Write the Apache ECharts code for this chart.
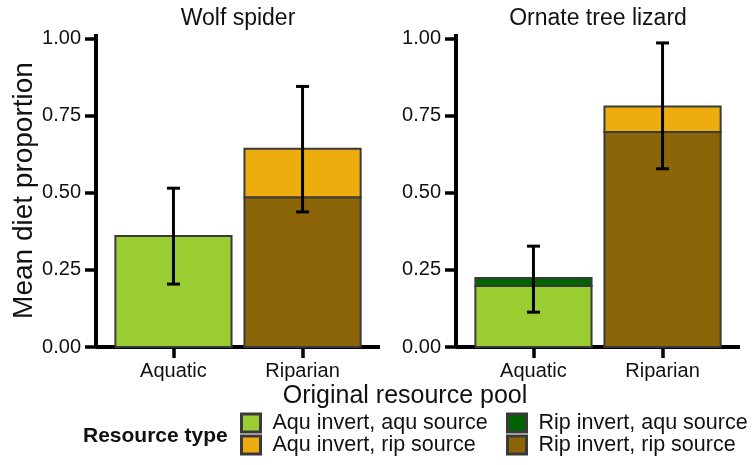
<!DOCTYPE html>
<html>
<head>
<meta charset="utf-8">
<script src="https://cdn.jsdelivr.net/npm/echarts@6/dist/echarts.min.js"></script>
<style>
  html, body { margin: 0; padding: 0; background: #fff; }
  #chart { width: 756px; height: 465px; }
</style>
</head>
<body>
<div id="chart"></div>
<script>
// Original resource pool categories and panel (consumer) names
const poolCategories = ['Aquatic', 'Riparian'];
const panelTitles = ['Wolf spider', 'Ornate tree lizard'];
const resourceTypes = [
  'Aqu invert, aqu source',
  'Aqu invert, rip source',
  'Rip invert, aqu source',
  'Rip invert, rip source'
];

// Mean diet proportion by pool (Aquatic, Riparian); null = no segment
const spiderAquAqu = [0.36, null];
const spiderAquRip = [null, 0.157];
const spiderRipAqu = [null, null];
const spiderRipRip = [null, 0.486];

const lizardAquAqu = [0.198, null];
const lizardAquRip = [null, 0.083];
const lizardRipAqu = [0.026, null];
const lizardRipRip = [null, 0.697];

// Error bar limits by pool
const spiderErrLow = [0.204, 0.438];
const spiderErrHigh = [0.515, 0.845];
const lizardErrLow = [0.113, 0.578];
const lizardErrHigh = [0.327, 0.986];

// Y axis tick values
const yTicks = [0, 0.25, 0.5, 0.75, 1];

const FONT = 'Liberation Sans, Arial, Helvetica, sans-serif';
const colors = {
  'Aqu invert, aqu source': '#9ACD32',
  'Aqu invert, rip source': '#EEAD0E',
  'Rip invert, aqu source': '#006400',
  'Rip invert, rip source': '#8B6508'
};
const BAR_BORDER = '#3a3a3a';
const BAR_WIDTH = 0.9; // in category units

const panels = [
  { aquAqu: spiderAquAqu, aquRip: spiderAquRip, ripAqu: spiderRipAqu, ripRip: spiderRipRip,
    low: spiderErrLow, high: spiderErrHigh },
  { aquAqu: lizardAquAqu, aquRip: lizardAquRip, ripAqu: lizardRipAqu, ripRip: lizardRipRip,
    low: lizardErrLow, high: lizardErrHigh }
];

const gridLefts = [96, 456];
const GRID_W = 284;

// Stacked rectangle: value(0) = category position, value(1) = base, value(2) = top
function renderSegment(params, api) {
  const x = api.value(0);
  const w = api.size([BAR_WIDTH, 0])[0];
  const pBase = api.coord([x, api.value(1)]);
  const pTop = api.coord([x, api.value(2)]);
  return {
    type: 'rect',
    shape: { x: pBase[0] - w / 2, y: pTop[1], width: w, height: pBase[1] - pTop[1] },
    style: { fill: api.visual('color'), stroke: BAR_BORDER, lineWidth: 2 }
  };
}

function renderErrorBar(params, api) {
  const x = api.value(0);
  const pLo = api.coord([x, api.value(1)]);
  const pHi = api.coord([x, api.value(2)]);
  const cap = 6.5;
  const style = { stroke: '#000', lineWidth: 3, lineCap: 'butt' };
  return {
    type: 'group',
    children: [
      { type: 'line', shape: { x1: pLo[0], y1: pLo[1], x2: pHi[0], y2: pHi[1] }, style },
      { type: 'line', shape: { x1: pLo[0] - cap, y1: pLo[1], x2: pLo[0] + cap, y2: pLo[1] }, style },
      { type: 'line', shape: { x1: pHi[0] - cap, y1: pHi[1], x2: pHi[0] + cap, y2: pHi[1] }, style }
    ]
  };
}

const grid = [], xAxis = [], yAxis = [], series = [];

panels.forEach((p, k) => {
  grid.push({ left: gridLefts[k], top: 34, width: GRID_W, height: 313 });
  xAxis.push({
    type: 'value', gridIndex: k, min: 0.4, max: 2.6,
    axisLine: { show: true, onZero: false, lineStyle: { color: '#000', width: 4, cap: 'butt' } },
    axisTick: { show: true, customValues: [1, 2], length: 11, lineStyle: { color: '#000', width: 3.5 } },
    axisLabel: {
      customValues: [1, 2], margin: 14, fontSize: 20, color: '#111', fontFamily: FONT,
      formatter: v => poolCategories[Math.round(v) - 1]
    },
    splitLine: { show: false }
  });
  yAxis.push({
    type: 'value', gridIndex: k, min: 0, max: 1.015,
    name: k === 0 ? 'Mean diet proportion' : '',
    nameLocation: 'middle', nameGap: 58, nameRotate: 90,
    nameTextStyle: { fontSize: 28, color: '#111', fontFamily: FONT },
    axisLine: { show: true, lineStyle: { color: '#000', width: 4, cap: 'butt' } },
    axisTick: { show: true, customValues: yTicks, length: 11, lineStyle: { color: '#000', width: 3.5 } },
    axisLabel: {
      customValues: yTicks, margin: 15, fontSize: 20, color: '#111', fontFamily: FONT,
      formatter: v => v.toFixed(2)
    },
    splitLine: { show: false }
  });

  // stacking order from bottom: aqu/aqu, rip/rip, rip/aqu, aqu/rip
  const stackOrder = [
    ['Aqu invert, aqu source', p.aquAqu],
    ['Rip invert, rip source', p.ripRip],
    ['Rip invert, aqu source', p.ripAqu],
    ['Aqu invert, rip source', p.aquRip]
  ];
  const running = poolCategories.map(() => 0);
  stackOrder.forEach(([name, vals]) => {
    const data = [];
    vals.forEach((v, i) => {
      if (v == null) return;
      data.push([i + 1, running[i], running[i] + v]);
      running[i] += v;
    });
    series.push({
      type: 'custom', name, xAxisIndex: k, yAxisIndex: k,
      renderItem: renderSegment,
      encode: { x: 0, y: [1, 2] },
      itemStyle: { color: colors[name] },
      data, z: 2, silent: true
    });
  });

  series.push({
    type: 'custom', name: 'err' + k, xAxisIndex: k, yAxisIndex: k,
    renderItem: renderErrorBar,
    encode: { x: 0, y: [1, 2] },
    data: p.low.map((lo, i) => [i + 1, lo, p.high[i]]),
    z: 5, silent: true
  });
});

const legendBase = {
  orient: 'vertical', top: 412, padding: 0, itemWidth: 19, itemHeight: 18, itemGap: 0,
  icon: 'rect', selectedMode: false,
  itemStyle: { borderColor: BAR_BORDER, borderWidth: 3 },
  textStyle: { fontSize: 21.5, lineHeight: 22, color: '#111', fontFamily: FONT, padding: [0, 0, 0, 7] }
};

const option = {
  backgroundColor: '#fff',
  animation: false,
  textStyle: { fontFamily: FONT },
  grid, xAxis, yAxis, series,
  legend: [
    Object.assign({}, legendBase, { left: 240, data: [resourceTypes[0], resourceTypes[1]] }),
    Object.assign({}, legendBase, { left: 506, data: [resourceTypes[2], resourceTypes[3]] })
  ],
  graphic: [
    { type: 'text', x: gridLefts[0] + GRID_W / 2, y: 19,
      style: { text: panelTitles[0], fontSize: 23, fontFamily: FONT, fill: '#111', textAlign: 'center', textVerticalAlign: 'middle' } },
    { type: 'text', x: gridLefts[1] + GRID_W / 2, y: 19,
      style: { text: panelTitles[1], fontSize: 23, fontFamily: FONT, fill: '#111', textAlign: 'center', textVerticalAlign: 'middle' } },
    { type: 'text', x: 405, y: 396,
      style: { text: 'Original resource pool', fontSize: 25, fontFamily: FONT, fill: '#111', textAlign: 'center', textVerticalAlign: 'middle' } },
    { type: 'text', x: 83, y: 436,
      style: { text: 'Resource type', fontSize: 21, fontWeight: 'bold', fontFamily: FONT, fill: '#111', textAlign: 'left', textVerticalAlign: 'middle' } }
  ]
};

const chart = echarts.init(document.getElementById('chart'), null, { renderer: 'canvas' });
chart.setOption(option);
</script>
</body>
</html>
